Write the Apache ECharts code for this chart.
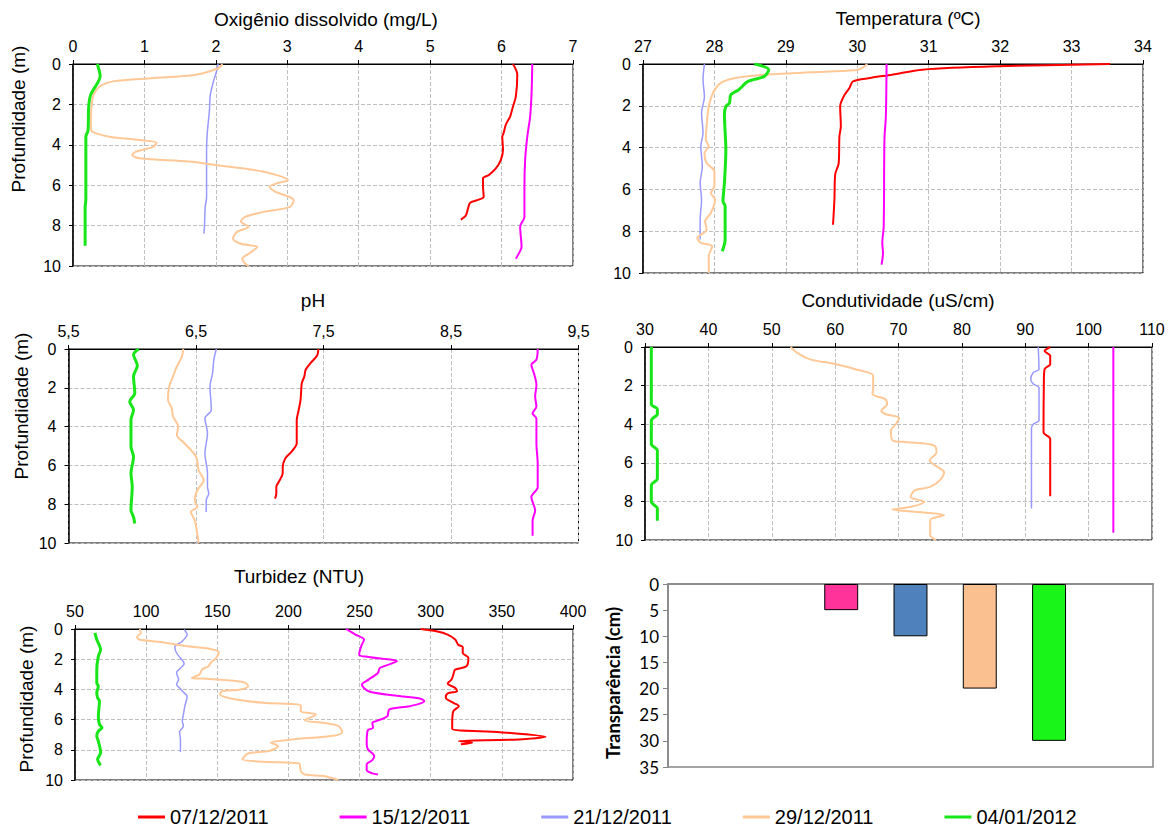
<!DOCTYPE html>
<html>
<head>
<meta charset="utf-8">
<script src="https://cdn.jsdelivr.net/npm/echarts@6/dist/echarts.min.js"></script>
<style>
html,body{margin:0;padding:0;background:#fff;}
#c{width:1173px;height:828px;}
</style>
</head>
<body>
<div id="c"></div>
<script>
// ---------- DATA ----------
const dates = ['07/12/2011', '15/12/2011', '21/12/2011', '29/12/2011', '04/01/2012'];

// Oxigênio dissolvido (mg/L): [valor, profundidade]
const od_0712 = [[6.16,0],[6.22,0.53],[6.20,1.6],[6.16,2.1],[6.12,2.6],[6.06,3.0],[6.03,3.4],[6.01,3.6],[6.02,4.25],[5.99,4.75],[5.92,5.17],[5.82,5.5],[5.74,5.66],[5.74,6.08],[5.75,6.57],[5.66,6.74],[5.56,6.87],[5.53,7.15],[5.50,7.5],[5.43,7.7]];
const od_1512 = [[6.43,0],[6.42,1.44],[6.40,2.6],[6.36,3.6],[6.33,4.75],[6.32,6.08],[6.32,7.57],[6.26,8.06],[6.28,9.06],[6.24,9.39],[6.20,9.64]];
const od_2112 = [[2.03,0],[2.01,0.36],[1.96,0.94],[1.92,1.6],[1.91,2.3],[1.88,3.4],[1.87,4.25],[1.87,6.6],[1.85,7.1],[1.84,8.1],[1.83,8.4]];
const od_2912 = [[2.09,0],[2.04,0.2],[1.72,0.53],[1.09,0.7],[0.56,0.86],[0.38,1.1],[0.29,1.5],[0.26,2.1],[0.25,3.1],[0.27,3.35],[0.51,3.6],[0.93,3.76],[1.17,3.9],[1.12,4.1],[0.88,4.34],[0.83,4.5],[0.93,4.67],[1.62,4.83],[1.99,5.0],[2.67,5.33],[3.01,5.75],[2.88,5.88],[2.75,6.08],[2.83,6.32],[3.09,6.74],[3.04,7.07],[2.67,7.32],[2.41,7.57],[2.35,7.8],[2.46,8.06],[2.30,8.3],[2.24,8.64],[2.35,8.9],[2.58,9.06],[2.46,9.39],[2.37,9.64],[2.41,9.88],[2.46,10]];
const od_0401 = [[0.34,0],[0.38,0.6],[0.25,1.5],[0.22,2.1],[0.21,3.3],[0.18,3.6],[0.18,6.7],[0.17,7.1],[0.17,9.0]];

// Temperatura (ºC)
const t_0712 = [[33.54,0],[31.96,0.11],[30.91,0.27],[30.49,0.51],[30.18,0.67],[29.94,0.83],[29.89,1.15],[29.81,1.55],[29.76,2.03],[29.77,2.98],[29.75,3.46],[29.74,4.74],[29.69,5.3],[29.68,6.49],[29.66,7.69]];
const t_1512 = [[30.41,0],[30.40,2.5],[30.38,3.62],[30.37,7.77],[30.35,8.56],[30.36,9.04],[30.34,9.6]];
const t_2112 = [[27.86,0],[27.84,0.75],[27.86,1.55],[27.82,2.34],[27.84,3.3],[27.81,3.94],[27.83,4.9],[27.80,5.7],[27.82,6.49],[27.80,7.45],[27.80,8.4]];
const t_2912 = [[30.14,0],[30.07,0.19],[29.97,0.3],[29.34,0.4],[28.71,0.51],[28.29,0.67],[28.10,0.88],[28.02,1.15],[27.97,1.47],[27.92,2.03],[27.89,2.98],[27.88,3.62],[27.92,3.94],[27.86,4.26],[27.89,4.74],[28.00,5.14],[28.00,5.85],[27.95,6.17],[28.01,6.49],[27.95,7.13],[27.87,7.53],[27.89,7.93],[27.76,8.33],[27.81,8.56],[27.97,8.72],[27.92,9.2],[27.92,10]];
const t_0401 = [[28.56,0],[28.76,0.27],[28.70,0.59],[28.47,0.83],[28.34,1.23],[28.23,1.47],[28.21,1.87],[28.16,2.03],[28.14,2.42],[28.16,4.1],[28.14,5.69],[28.12,6.57],[28.15,6.81],[28.15,8.4],[28.11,8.96]];

// pH
const ph_0712 = [[7.46,0],[7.45,0.34],[7.40,0.72],[7.36,1.07],[7.35,1.41],[7.33,1.76],[7.32,2.62],[7.30,3.31],[7.29,3.66],[7.29,4.86],[7.25,5.29],[7.20,5.64],[7.18,6.07],[7.18,6.41],[7.15,6.84],[7.13,7.1],[7.13,7.45],[7.12,7.71]];
const ph_1512 = [[9.18,0],[9.17,0.55],[9.13,0.81],[9.15,1.24],[9.17,1.85],[9.16,2.45],[9.17,2.97],[9.14,3.32],[9.17,3.58],[9.17,4.87],[9.18,5.91],[9.18,7.12],[9.13,7.63],[9.16,8.32],[9.14,8.84],[9.14,9.62]];
const ph_2112 = [[6.66,0],[6.64,0.55],[6.63,1.24],[6.61,1.93],[6.62,3.14],[6.57,3.57],[6.59,4.34],[6.57,5.38],[6.59,6.41],[6.59,7.1],[6.60,7.45],[6.58,7.79],[6.58,8.4]];
const ph_2912 = [[6.40,0],[6.39,0.38],[6.35,0.9],[6.32,1.41],[6.29,1.93],[6.28,2.62],[6.31,3.05],[6.32,3.48],[6.36,4.0],[6.35,4.43],[6.41,4.86],[6.50,5.55],[6.52,6.24],[6.56,6.76],[6.51,7.28],[6.49,7.79],[6.51,8.14],[6.46,8.4],[6.49,8.83],[6.51,9.52],[6.52,10]];
const ph_0401 = [[6.05,0],[6.01,0.29],[6.04,0.86],[6.01,1.41],[6.02,2.28],[5.98,2.71],[6.01,3.14],[5.99,3.66],[5.99,5.03],[6.01,5.55],[5.99,6.41],[6.00,7.1],[5.99,8.31],[6.01,8.66],[6.02,9.0]];

// Condutividade (uS/cm)
const c_0712 = [[93.94,0],[93.05,0.21],[93.94,0.46],[93.94,0.89],[93.05,1.15],[92.94,1.75],[92.88,4.42],[93.94,4.76],[93.94,7.73]];
const c_1512 = [[103.9,0],[103.9,9.62]];
const c_2112 = [[92.05,0],[92.17,1.15],[91.28,1.32],[90.86,1.67],[91.28,1.92],[92.17,2.1],[92.17,3.81],[91.28,3.99],[90.98,4.24],[90.98,8.37]];
const c_2912 = [[52.97,0],[53.98,0.29],[56.05,0.64],[59.6,0.86],[63.16,1.15],[66.0,1.49],[66.0,2.1],[65.9,2.44],[67.9,2.7],[68.2,2.96],[67.3,3.3],[67.9,3.47],[70.1,3.68],[69.6,3.99],[68.8,4.33],[69.1,4.85],[71.4,4.93],[75.6,5.1],[76.0,5.45],[74.9,5.88],[76.2,6.22],[77.2,6.48],[76.5,6.91],[75.0,7.25],[72.6,7.42],[71.9,7.77],[74.1,8.02],[72.0,8.28],[69.0,8.42],[72.6,8.54],[77.2,8.71],[75.0,8.97],[75.0,9.74],[75.9,10]];
const c_0401 = [[31.0,0],[31.0,2.96],[31.95,3.21],[31.95,3.47],[31.0,3.81],[31.0,5.02],[31.95,5.36],[31.95,6.82],[31.0,7.16],[31.0,8.02],[31.95,8.37],[31.95,9.0]];

// Turbidez (NTU)
const tu_0712 = [[292.9,0],[304.0,0.15],[311.9,0.37],[317.2,0.7],[319.3,1.04],[322.5,1.19],[322.5,1.59],[326.5,1.92],[325.1,2.47],[317.2,2.69],[315.9,3.02],[314.6,3.35],[311.9,3.61],[317.2,3.9],[318.5,4.12],[311.9,4.27],[310.6,4.56],[315.9,4.89],[319.8,5.11],[315.9,5.44],[315.1,6.21],[315.1,6.61],[348.9,6.83],[380.7,7.14],[362.2,7.31],[319.8,7.42],[329.1,7.53],[321.2,7.64]];
const tu_1512 = [[240.5,0],[247.1,0.37],[253.2,0.7],[251.1,1.15],[249.7,1.7],[256.3,1.85],[276.2,2.14],[264.3,2.58],[262.9,2.91],[256.3,3.35],[251.6,3.68],[256.3,4.12],[274.9,4.41],[293.4,4.63],[295.5,4.78],[285.4,5.11],[270.9,5.33],[269.5,5.77],[261.6,6.1],[259.0,6.21],[259.5,6.54],[255.8,6.7],[255.0,7.53],[255.8,7.97],[260.3,8.41],[259.0,8.68],[255.0,8.96],[255.0,9.34],[259.0,9.56],[262.9,9.63]];
const tu_2112 = [[126.7,0.04],[128.8,0.37],[125.4,0.81],[120.1,1.19],[121.4,1.59],[124.1,1.92],[126.7,2.29],[121.4,2.91],[122.8,3.35],[121.4,3.68],[123.5,3.9],[126.7,4.23],[128.8,4.45],[127.2,5.11],[126.2,5.66],[125.4,6.1],[126.2,6.43],[123.5,6.83],[124.1,7.31],[124.1,8.15]];
const tu_2912 = [[95.5,0],[96.3,0.26],[93.7,0.53],[95.0,0.7],[110.8,0.88],[129.4,1.15],[145.2,1.32],[151.1,1.54],[149.2,1.92],[145.2,2.25],[143.9,2.47],[139.8,2.64],[137.3,3.02],[132.0,3.24],[142.6,3.3],[169.0,3.52],[171.7,3.79],[166.4,4.0],[153.2,4.12],[151.9,4.34],[161.1,4.63],[182.3,4.89],[208.7,5.07],[208.7,5.44],[219.3,5.66],[211.4,6.04],[224.6,6.21],[235.2,6.43],[237.8,6.83],[229.9,7.09],[203.4,7.31],[187.6,7.53],[192.9,7.75],[186.2,8.08],[171.7,8.24],[167.7,8.63],[182.3,8.79],[207.4,8.9],[208.7,9.41],[211.4,9.63],[224.6,9.74],[235.2,10]];
const tu_0401 = [[64.0,0.26],[65.3,0.7],[68.0,1.37],[66.4,1.81],[65.3,2.69],[65.3,3.57],[66.4,3.79],[65.3,4.23],[65.9,4.56],[67.2,4.78],[66.4,5.77],[67.2,6.32],[69.0,6.54],[66.4,6.76],[65.3,7.09],[66.4,7.42],[68.0,8.19],[65.9,8.63],[68.0,9.03]];

// Transparência (cm)
const barCats = ['', '07/12/2011', '15/12/2011', '21/12/2011', '29/12/2011', '04/01/2012', ''];
const barValues = [null, null, 5, 10, 20, 30, null];

// Axis ticks
const odTicks = {min: 0, max: 7, interval: 1};
const tTicks = {min: 27, max: 34, interval: 1};
const phTicks = {min: 5.5, max: 9.5, interval: 1};
const cTicks = {min: 30, max: 110, interval: 10};
const tuTicks = {min: 50, max: 400, interval: 50};
const depthTicks = {min: 0, max: 10, interval: 2};
const barTicks = {min: 0, max: 35, interval: 5};

// ---------- STYLE ----------
const FONT = '"Liberation Sans", Arial, sans-serif';
const BFONT = 'Lato, "Open Sans", sans-serif';
const lineColors = ['#FF0000', '#FF00FF', '#9999FF', '#FFC896', '#19E619'];
const lineWidths = [2, 2, 1.5, 2, 3];
const barColors = ['#FF3399', '#FF3399', '#FF3399', '#4F81BD', '#FAC090', '#19F519', '#FF3399'];

const panels = [
  {grid: {left: 73, top: 64, width: 500, height: 202}, ticks: odTicks, data: [od_0712, od_1512, od_2112, od_2912, od_0401], fmt: v => String(v)},
  {grid: {left: 643, top: 64, width: 500, height: 209}, ticks: tTicks, data: [t_0712, t_1512, t_2112, t_2912, t_0401], fmt: v => String(v)},
  {grid: {left: 68.5, top: 349, width: 510, height: 194}, ticks: phTicks, data: [ph_0712, ph_1512, ph_2112, ph_2912, ph_0401], fmt: v => String(v).replace('.', ',')},
  {grid: {left: 645, top: 347, width: 507, height: 193}, ticks: cTicks, data: [c_0712, c_1512, c_2112, c_2912, c_0401], fmt: v => String(v)},
  {grid: {left: 75, top: 629, width: 498, height: 151}, ticks: tuTicks, data: [tu_0712, tu_1512, tu_2112, tu_2912, tu_0401], fmt: v => String(v)}
];

const grids = [], xAxes = [], yAxes = [], series = [];
const dashed = {color: '#BFBFBF', type: [4, 2], width: 1};

panels.forEach((p, i) => {
  grids.push(Object.assign({show: true, borderColor: '#000', borderWidth: 1, containLabel: false}, p.grid));
  xAxes.push({
    gridIndex: i, type: 'value', position: 'top',
    min: p.ticks.min, max: p.ticks.max, interval: p.ticks.interval,
    axisLine: {show: true, onZero: false, lineStyle: {color: '#000', width: 1.2}},
    axisTick: {show: true, inside: false, length: 4, lineStyle: {color: '#000'}},
    axisLabel: {fontSize: 16, color: '#000', fontFamily: FONT, margin: 10, formatter: p.fmt, showMinLabel: true, showMaxLabel: true},
    splitLine: {show: true, lineStyle: dashed}
  });
  yAxes.push({
    gridIndex: i, type: 'value', inverse: true,
    min: depthTicks.min, max: depthTicks.max, interval: depthTicks.interval,
    axisLine: {show: true, onZero: false, lineStyle: {color: '#000', width: 1.5}},
    axisTick: {show: true, inside: false, length: 4, lineStyle: {color: '#000'}},
    axisLabel: {fontSize: 16, color: '#000', fontFamily: FONT, margin: 12},
    splitLine: {show: true, lineStyle: dashed}
  });
  p.data.forEach((d, k) => {
    series.push({
      name: dates[k], type: 'line', xAxisIndex: i, yAxisIndex: i,
      data: d, symbol: 'none', showSymbol: false, smooth: 0.3,
      lineStyle: {color: lineColors[k], width: lineWidths[k]},
      itemStyle: {color: lineColors[k]},
      emphasis: {disabled: true}, animation: false
    });
  });
});

// bar panel
grids.push({show: true, left: 668, top: 584, width: 485, height: 183, borderColor: '#868686', borderWidth: 1.5});
xAxes.push({
  gridIndex: 5, type: 'category', data: barCats,
  axisLine: {show: true, lineStyle: {color: '#868686', width: 1.5}},
  axisTick: {show: false}, axisLabel: {show: false}, splitLine: {show: false}
});
yAxes.push({
  gridIndex: 5, type: 'value', inverse: true,
  min: barTicks.min, max: barTicks.max, interval: barTicks.interval,
  axisLine: {show: true, lineStyle: {color: '#868686', width: 1.5}},
  axisTick: {show: true, inside: false, length: 5, lineStyle: {color: '#868686'}},
  axisLabel: {fontSize: 17, color: '#000', fontFamily: BFONT, margin: 9},
  splitLine: {show: false}
});
series.push({
  name: 'Transparência', type: 'bar', xAxisIndex: 5, yAxisIndex: 5,
  barWidth: '49%',
  data: barValues.map((v, i) => ({value: v, itemStyle: {color: barColors[i], borderColor: '#000', borderWidth: 1}})),
  emphasis: {disabled: true}, animation: false
});

function txt(text, x, y, size, opts) {
  opts = opts || {};
  return {
    type: 'text', x: x, y: y, rotation: opts.rot || 0, z: 100,
    style: {
      text: text, fill: '#000',
      font: (opts.bold ? 'bold ' : '') + size + 'px ' + (opts.family || FONT),
      textAlign: 'center', textVerticalAlign: 'middle', align: 'center', verticalAlign: 'middle'
    }
  };
}

const option = {
  animation: false,
  backgroundColor: '#fff',
  grid: grids, xAxis: xAxes, yAxis: yAxes, series: series,
  legend: {
    data: dates.map((d, k) => ({name: d, itemStyle: {color: lineColors[k]}})),
    left: 133, top: 802, itemGap: 71, itemWidth: 27, itemHeight: 3, icon: 'rect',
    textStyle: {fontSize: 20, color: '#000', fontFamily: FONT}, selectedMode: false
  },
  graphic: [
    txt('Oxigênio dissolvido (mg/L)', 326, 19, 19),
    txt('Temperatura (ºC)', 908, 18, 19),
    txt('pH', 313, 300, 19),
    txt('Condutividade (uS/cm)', 898, 300, 19),
    txt('Turbidez (NTU)', 299, 576, 19),
    txt('Profundidade (m)', 18, 119, 19, {rot: Math.PI / 2}),
    txt('Profundidade (m)', 21, 406, 19, {rot: Math.PI / 2}),
    txt('Profundidade (m)', 26, 699, 19, {rot: Math.PI / 2}),
    txt('Transparência (cm)', 613, 683, 18.5, {rot: Math.PI / 2, bold: true, family: BFONT})
  ]
};

const chart = echarts.init(document.getElementById('c'), null, {renderer: 'svg'});
chart.setOption(option);
</script>
</body>
</html>
